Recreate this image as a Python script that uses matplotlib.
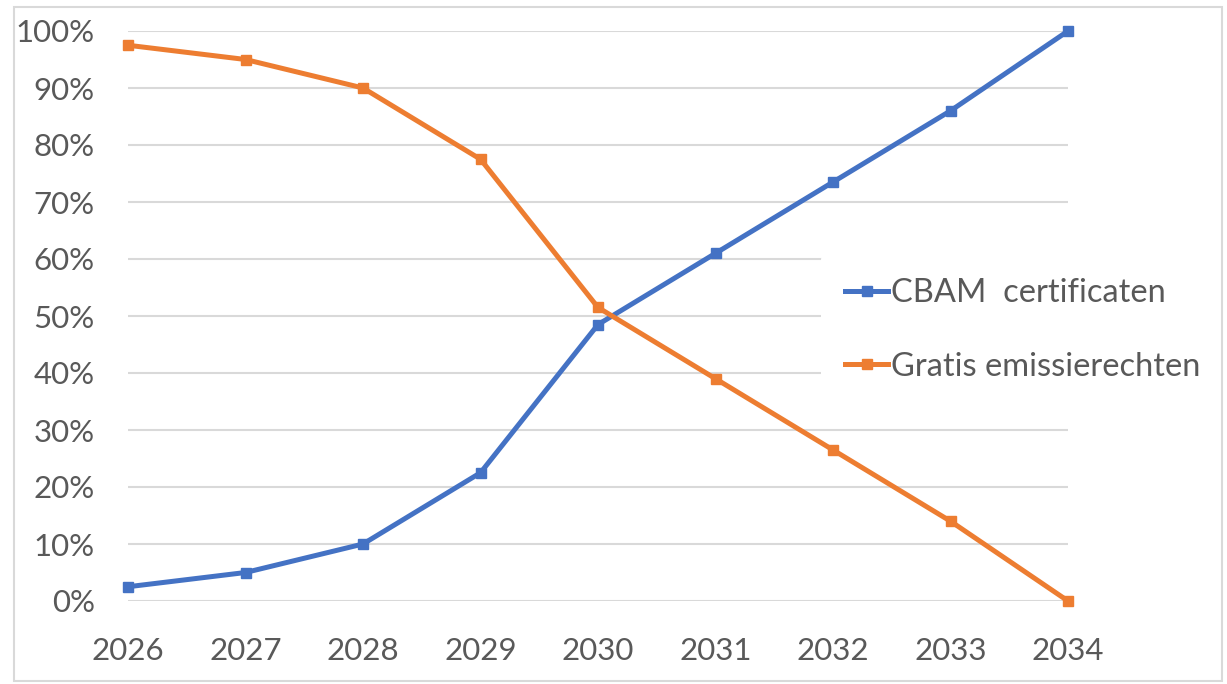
import numpy as np
import matplotlib
matplotlib.use("Agg")
import matplotlib.pyplot as plt
from matplotlib.patches import Rectangle
from matplotlib.lines import Line2D

# Data
jaren = [2026, 2027, 2028, 2029, 2030, 2031, 2032, 2033, 2034]
cbam = [2.5, 5, 10, 22.5, 48.5, 61, 73.5, 86, 100]
gratis = [97.5, 95, 90, 77.5, 51.5, 39, 26.5, 14, 0]
labels = ["CBAM  certificaten", "Gratis emissierechten"]
kleuren = ["#4472C4", "#ED7D31"]

plt.rcParams['font.family'] = ['Lato', 'DejaVu Sans']
tekstkleur = "#595959"

fig = plt.figure(figsize=(12.27, 6.84), dpi=100)
ax = fig.add_axes([128 / 1227, 1 - 601 / 684, (1068 - 128) / 1227, (601 - 31) / 684])

for serie, kleur in zip([cbam, gratis], kleuren):
    ax.plot(jaren, serie, color=kleur, linewidth=3.6, marker="s", markersize=7.5,
            solid_joinstyle="round", solid_capstyle="round", zorder=3, clip_on=False)

ax.set_xlim(jaren[0], jaren[-1])
ax.set_ylim(0, 100)
ax.set_xticks(jaren)
ax.set_xticklabels([str(j) for j in jaren])
ax.set_yticks(np.arange(0, 101, 10))
ax.set_yticklabels([f"{v}%" for v in range(0, 101, 10)])
ax.grid(axis="y", color="#d9d9d9", linewidth=1.5, zorder=0)
ax.set_axisbelow(True)
for s in ax.spines.values():
    s.set_visible(False)
ax.tick_params(axis="y", length=0, pad=24, labelsize=22.5, labelcolor=tekstkleur)
ax.tick_params(axis="x", length=0, pad=26, labelsize=22.5, labelcolor=tekstkleur)

handles = [Line2D([], [], color=k, lw=3.6, marker="s", markersize=6.5) for k in kleuren]
leg = fig.legend(handles, labels, loc="center left", bbox_to_anchor=(821 / 1227, 1 - 330 / 684),
                 frameon=True, fontsize=23.5, labelcolor=tekstkleur, handlelength=1.3,
                 handletextpad=0.1, labelspacing=1.34, borderpad=0.75, borderaxespad=0)
leg.get_frame().set_facecolor("white")
leg.get_frame().set_edgecolor("none")
leg.get_frame().set_alpha(1)

# rand rond de figuur (boven de legenda tekenen)
rand = Rectangle((14 / 1227, 1 - 681 / 684), (1222 - 14) / 1227, (681 - 7) / 684,
                 transform=fig.transFigure, fill=False,
                 edgecolor="#d9d9d9", linewidth=1.5, zorder=10)
fig.add_artist(rand)

fig.savefig("out.png", dpi=100)
